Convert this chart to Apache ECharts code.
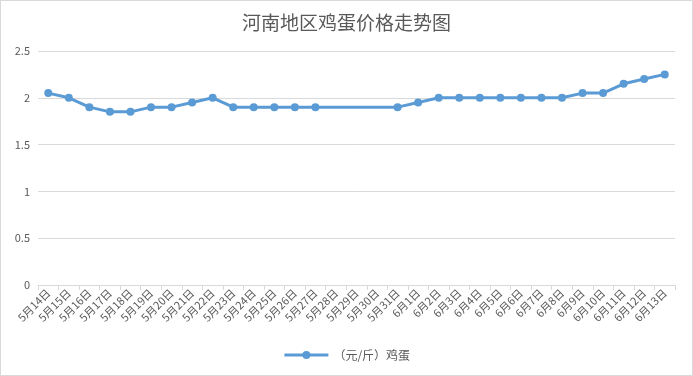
<!DOCTYPE html>
<html>
<head>
<meta charset="utf-8">
<script src="https://cdn.jsdelivr.net/npm/echarts@6/dist/echarts.min.js"></script>
<style>
  html, body { margin: 0; padding: 0; background: #fff; }
  #main { width: 691px; height: 374px; border: 1px solid #d9d9d9; }
</style>
</head>
<body>
<div id="main"></div>
<script>
var days = ['5月14日', '5月15日', '5月16日', '5月17日', '5月18日', '5月19日', '5月20日', '5月21日',
  '5月22日', '5月23日', '5月24日', '5月25日', '5月26日', '5月27日', '5月28日', '5月29日', '5月30日',
  '5月31日', '6月1日', '6月2日', '6月3日', '6月4日', '6月5日', '6月6日', '6月7日', '6月8日',
  '6月9日', '6月10日', '6月11日', '6月12日', '6月13日']
// 28-30日无数据
var eggPrice = [2.05, 2.0, 1.9, 1.85, 1.85, 1.9, 1.9, 1.95, 2.0, 1.9, 1.9, 1.9, 1.9, 1.9, null, null, null,
  1.9, 1.95, 2.0, 2.0, 2.0, 2.0, 2.0, 2.0, 2.0, 2.05, 2.05, 2.15, 2.2, 2.25]
var seriesName = '（元/斤）鸡蛋'

var chart = echarts.init(document.getElementById('main'))
var font = '"Microsoft YaHei", "Noto Sans CJK SC", sans-serif'

var option = {
  animation: false,
  title: {
    text: '河南地区鸡蛋价格走势图',
    left: 'center',
    top: 7,
    textStyle: { fontSize: 19, fontWeight: 'normal', color: '#595959', fontFamily: font }
  },
  legend: {
    bottom: 9,
    left: 'center',
    itemWidth: 44,
    itemHeight: 10,
    data: [seriesName],
    lineStyle: { width: 3 },
    textStyle: { fontSize: 12, color: '#595959', fontFamily: font }
  },
  grid: { left: 37, right: 17, top: 50, bottom: 90 },
  xAxis: {
    type: 'category',
    data: days,
    boundaryGap: true,
    axisLine: { lineStyle: { color: '#d9d9d9' } },
    axisTick: { show: true, length: 5, lineStyle: { color: '#d9d9d9' } },
    axisLabel: { rotate: 45, interval: 0, fontSize: 11, color: '#595959', fontFamily: font, margin: 6 }
  },
  yAxis: {
    type: 'value',
    min: 0,
    max: 2.5,
    interval: 0.5,
    axisLine: { show: false },
    axisTick: { show: false },
    splitLine: { lineStyle: { color: '#d9d9d9' } },
    axisLabel: { fontSize: 11, color: '#595959', fontFamily: font, margin: 8 }
  },
  series: [{
    name: seriesName,
    type: 'line',
    data: eggPrice,
    connectNulls: true,
    symbol: 'circle',
    symbolSize: 8,
    lineStyle: { color: '#5b9bd5', width: 3 },
    itemStyle: { color: '#5b9bd5' }
  }]
}

chart.setOption(option)
</script>
</body>
</html>
